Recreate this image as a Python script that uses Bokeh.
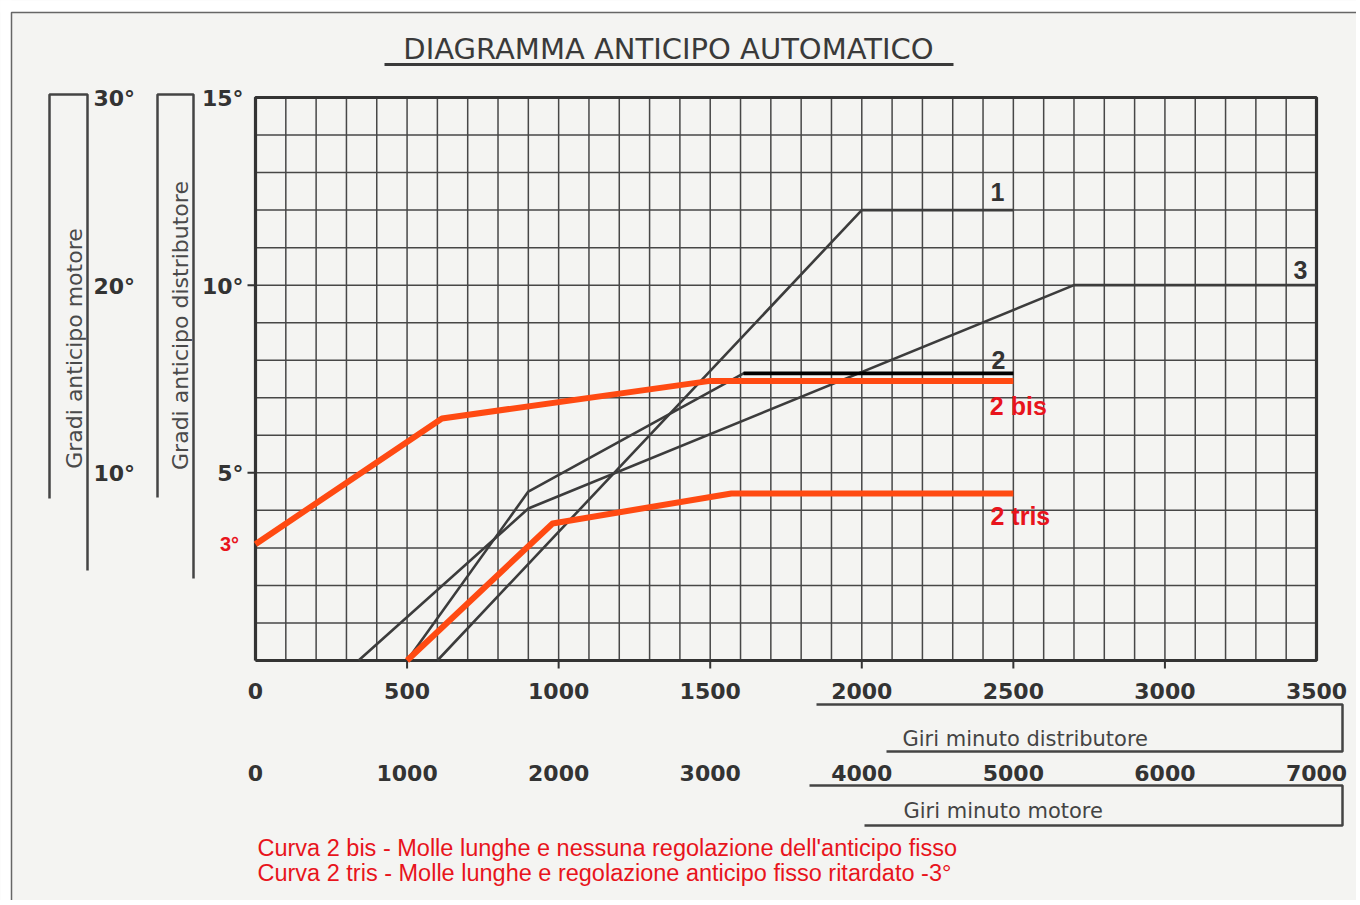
import numpy as np
from bokeh.plotting import figure
from bokeh.models import Range1d
from bokeh.core.properties import value
from bokeh.embed import file_html
from bokeh.resources import INLINE

# ---------------- data ----------------
dist_rpm_ticks = [0, 500, 1000, 1500, 2000, 2500, 3000, 3500]
motor_rpm_ticks = [0, 1000, 2000, 3000, 4000, 5000, 6000, 7000]
dist_deg_ticks = [5, 10, 15]
motor_deg_ticks = [10, 20, 30]

curve1_rpm = [600, 2000, 2500]
curve1_deg = [0, 12, 12]
curve2_rpm = [500, 900, 1610, 2500]
curve2_deg = [0, 4.5, 7.65, 7.65]
curve3_rpm = [340, 900, 2700, 3500]
curve3_deg = [0, 4.05, 10, 10]
bis_rpm = [0, 615, 1500, 2500]
bis_deg = [3.1, 6.45, 7.45, 7.45]
tris_rpm = [500, 980, 1570, 2500]
tris_deg = [0, 3.65, 4.45, 4.45]

title_text = "DIAGRAMMA ANTICIPO AUTOMATICO"
motor_axis_title = "Gradi anticipo motore"
dist_axis_title = "Gradi anticipo distributore"
dist_rpm_title = "Giri minuto distributore"
motor_rpm_title = "Giri minuto motore"
note_lines = ["Curva  2 bis - Molle lunghe e nessuna regolazione dell'anticipo fisso",
              "Curva  2 tris - Molle lunghe e regolazione anticipo fisso ritardato -3°"]

# ---------------- layout ----------------
W, H = 1356, 900
OFF = 0                        # page offset of the canvas
RPM_MAX, DEG_MAX = 3500, 15
PX_X0, PX_X1 = 255, 1316      # page pixels of 0 and 3500 rpm
PX_Y0, PX_Y1 = 660, 97        # page pixels of 0 and 15 deg
kx = (PX_X1 - PX_X0) / RPM_MAX
ky = (PX_Y0 - PX_Y1) / DEG_MAX
x_start = -(PX_X0 - OFF) / kx
y_start = -(OFF + H - PX_Y0) / ky

def X(px):
    return (px - PX_X0) / kx

def Y(py):
    return (PX_Y0 - py) / ky

BG = "#f4f4f2"
GRID = "#474747"
RED_LINE = "#ff4a12"
RED_TXT = "#e8141c"

p = figure(width=W, height=H,
           x_range=Range1d(x_start, x_start + W / kx),
           y_range=Range1d(y_start, y_start + H / ky),
           output_backend="svg", toolbar_location=None,
           x_axis_type=None, y_axis_type=None, min_border=0,
           background_fill_color=BG, border_fill_color=BG,
           outline_line_color=None)

# scan frame
p.quad(left=[X(-5)], right=[X(11)], bottom=[Y(910)], top=[Y(-5)], fill_color="#ffffff", line_color=None)
p.quad(left=[X(-5)], right=[X(1365)], bottom=[Y(12)], top=[Y(-5)], fill_color="#ffffff", line_color=None)
p.line([X(11), X(11), X(1365)], [Y(910), Y(12), Y(12)], line_color="#666666", line_width=1.5)

# grid
gx = np.arange(0, RPM_MAX + 1, 100)
gy = np.arange(0, DEG_MAX + 1, 1)
p.segment(x0=gx, y0=np.zeros_like(gx), x1=gx, y1=np.full(len(gx), DEG_MAX),
          line_color=GRID, line_width=1.5)
p.segment(x0=np.zeros(len(gy)), y0=gy, x1=np.full(len(gy), RPM_MAX), y1=gy,
          line_color=GRID, line_width=1.5)
# plot border
p.line([0, 0, RPM_MAX, RPM_MAX, 0], [0, DEG_MAX, DEG_MAX, 0, 0], line_color="#333333", line_width=3.2)

# ticks
bt = np.array(dist_rpm_ticks[1:-1])
p.segment(x0=bt, y0=np.zeros(len(bt)), x1=bt, y1=np.full(len(bt), -8 / ky), line_color="#333333", line_width=2)
lt = np.array(dist_deg_ticks[:-1])
p.segment(x0=np.zeros(len(lt)), y0=lt, x1=np.full(len(lt), -8 / kx), y1=lt, line_color="#333333", line_width=2)

# curves
for xs, ys in [(curve1_rpm, curve1_deg), (curve2_rpm, curve2_deg), (curve3_rpm, curve3_deg)]:
    p.line(xs, ys, line_color="#3c3c3c", line_width=2.6)
p.line(curve2_rpm[-2:], curve2_deg[-2:], line_color="#000000", line_width=3.8)
p.line(bis_rpm, bis_deg, line_color=RED_LINE, line_width=6, line_join="round")
p.line(tris_rpm, tris_deg, line_color=RED_LINE, line_width=6, line_join="round")

# curve labels
lbl = dict(text_font=value("Liberation Sans"), text_font_size="25px", text_font_style="bold",
           text_align="center", text_baseline="middle")
p.text(x=[curve1_rpm[-1]], y=[curve1_deg[-1]], text=["1"], x_offset=-16, y_offset=-18, text_color="#333333", **lbl)
p.text(x=[curve2_rpm[-1]], y=[curve2_deg[-1]], text=["2"], x_offset=-15, y_offset=-13, text_color="#333333", **lbl)
p.text(x=[curve3_rpm[-1]], y=[curve3_deg[-1]], text=["3"], x_offset=-16, y_offset=-15, text_color="#333333", **lbl)
p.text(x=[bis_rpm[-1]], y=[bis_deg[-1]], text=["2 bis"], x_offset=5, y_offset=25, text_color=RED_TXT, **lbl)
p.text(x=[tris_rpm[-1]], y=[tris_deg[-1]], text=["2 tris"], x_offset=7, y_offset=23, text_color=RED_TXT, **lbl)
p.text(x=[bis_rpm[0]], y=[bis_deg[0]], text=["3°"], x_offset=-26, y_offset=0, text_color=RED_TXT,
       text_font=value("Liberation Sans"), text_font_size="20px", text_font_style="bold",
       text_align="center", text_baseline="middle")

# bottom tick labels
tk = dict(text_font=value("DejaVu Sans"), text_font_size="22px", text_font_style="bold",
          text_color="#333333", text_align="center", text_baseline="middle")
p.text(x=dist_rpm_ticks, y=[0] * len(dist_rpm_ticks), text=[str(v) for v in dist_rpm_ticks], y_offset=30, **tk)
p.text(x=[v / 2 for v in motor_rpm_ticks], y=[0] * len(motor_rpm_ticks), text=[str(v) for v in motor_rpm_ticks], y_offset=112, **tk)

# left degree labels
dk = dict(text_font=value("DejaVu Sans"), text_font_size="22px", text_font_style="bold",
          text_color="#333333", text_baseline="middle")
p.text(x=[0] * 3, y=[v / 2 for v in motor_deg_ticks], text=[f"{v}°" for v in motor_deg_ticks],
       x_offset=-162, y_offset=1, text_align="left", **dk)
p.text(x=[0] * 3, y=dist_deg_ticks, text=[f"{v}°" for v in dist_deg_ticks],
       x_offset=-12, y_offset=1, text_align="right", **dk)

# left brackets
p.line([X(49), X(49), X(87), X(87)], [Y(498), Y(94), Y(94), Y(570)], line_color="#444444", line_width=2.5)
p.line([X(157), X(157), X(193), X(193)], [Y(497), Y(94), Y(94), Y(578)], line_color="#444444", line_width=2.5)
ax = dict(text_font=value("DejaVu Sans"), text_font_size="22px", text_color="#4a4a4a",
          text_align="center", text_baseline="middle", angle=np.pi / 2)
p.text(x=[X(74)], y=[Y(348)], text=[motor_axis_title], **ax)
p.text(x=[X(180)], y=[Y(325)], text=[dist_axis_title], **ax)

# bottom brackets
p.line([X(816), X(1342), X(1342), X(886)], [Y(704), Y(704), Y(751), Y(751)], line_color="#444444", line_width=2.5)
p.line([X(809), X(1342), X(1342), X(864)], [Y(785), Y(785), Y(825), Y(825)], line_color="#444444", line_width=2.5)
bx = dict(text_font=value("DejaVu Sans"), text_font_size="21px", text_color="#444444",
          text_align="left", text_baseline="middle")
p.text(x=[X(902)], y=[Y(738)], text=[dist_rpm_title], **bx)
p.text(x=[X(903)], y=[Y(810)], text=[motor_rpm_title], **bx)

# title
p.text(x=[X(668)], y=[Y(48)], text=[title_text], text_font=value("DejaVu Sans"), text_font_size="29px",
       text_color="#3a3a3a", text_align="center", text_baseline="middle")
p.line([X(384), X(953)], [Y(64), Y(64)], line_color="#3a3a3a", line_width=3)

# notes
p.text(x=[X(257)] * 2, y=[Y(847), Y(872)], text=note_lines, text_font=value("Liberation Sans"),
       text_font_size="23.5px", text_color=RED_TXT, text_align="left", text_baseline="middle")

open("out.html", "w").write(file_html(p, INLINE))
